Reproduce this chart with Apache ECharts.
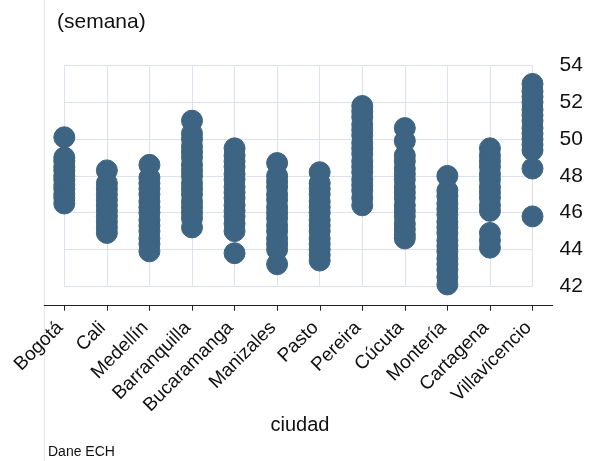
<!DOCTYPE html>
<html>
<head>
<meta charset="utf-8">
<script src="https://cdn.jsdelivr.net/npm/echarts@6/dist/echarts.min.js"></script>
<style>
  html, body { margin: 0; padding: 0; background: #fff; }
  #chart { width: 609px; height: 461px; }
</style>
</head>
<body>
<div id="chart"></div>
<script>
// ciudades (eje x)
const ciudades = ['Bogotá', 'Cali', 'Medellín', 'Barranquilla', 'Bucaramanga', 'Manizales',
  'Pasto', 'Pereira', 'Cúcuta', 'Montería', 'Cartagena', 'Villavicencio'];

// horas por semana, una lista por ciudad
const bogota = [50.1, 49.0, 48.8, 48.5, 48.3, 48.0, 47.8, 47.5, 47.3, 47.0, 46.8, 46.5];
const cali = [48.3, 47.6, 47.3, 47.0, 46.7, 46.4, 46.1, 45.8, 45.5, 45.2, 44.9];
const medellin = [48.6, 47.9, 47.6, 47.3, 47.0, 46.6, 46.3, 46.0, 45.6, 45.3, 45.0, 44.6, 44.3, 43.9];
const barranquilla = [51.0, 50.3, 50.0, 49.6, 49.3, 49.0, 48.6, 48.3, 48.0, 47.6, 47.3, 47.0, 46.6, 46.3, 46.0, 45.7, 45.2];
const bucaramanga = [49.5, 49.1, 48.8, 48.5, 48.1, 47.8, 47.4, 47.1, 46.8, 46.4, 46.1, 45.8, 45.4, 45.0, 43.8];
const manizales = [48.7, 48.0, 47.7, 47.4, 47.0, 46.7, 46.3, 46.0, 45.7, 45.3, 45.0, 44.6, 44.3, 44.0, 43.2];
const pasto = [48.2, 47.6, 47.3, 47.0, 46.6, 46.3, 46.0, 45.6, 45.3, 45.0, 44.6, 44.3, 44.0, 43.7, 43.4];
const pereira = [51.8, 51.5, 51.2, 50.8, 50.5, 50.2, 49.8, 49.5, 49.2, 48.8, 48.5, 48.2, 47.8, 47.5, 47.2, 46.8, 46.4];
const cucuta = [50.6, 49.9, 49.1, 48.8, 48.4, 48.1, 47.8, 47.4, 47.1, 46.8, 46.4, 46.1, 45.8, 45.4, 45.1, 44.8, 44.6];
const monteria = [48.0, 47.2, 46.9, 46.5, 46.2, 45.9, 45.5, 45.2, 44.9, 44.5, 44.2, 43.9, 43.5, 43.2, 42.9, 42.5, 42.1];
const cartagena = [49.5, 49.1, 48.8, 48.5, 48.1, 47.8, 47.4, 47.1, 46.8, 46.4, 46.1, 44.9, 44.5, 44.1];
const villavicencio = [53.0, 52.6, 52.3, 52.0, 51.6, 51.3, 51.0, 50.6, 50.3, 50.0, 49.7, 49.4, 48.4, 45.8];

// ticks del eje y
const yTicks = [42, 44, 46, 48, 50, 52, 54];
const xTicks = [1, 2, 3, 4, 5, 6, 7, 8, 9, 10, 11, 12];

const porCiudad = [bogota, cali, medellin, barranquilla, bucaramanga, manizales,
  pasto, pereira, cucuta, monteria, cartagena, villavicencio];

// pares [posicion ciudad, horas]
let puntos = [];
porCiudad.forEach((lista, i) => {
  lista.forEach(v => puntos.push([i + 1, v]));
});

const fuente = 'Liberation Sans, Arial, sans-serif';
const gridColor = '#dde1ec';
const colorPunto = '#3d6482';

let mychart = echarts.init(document.getElementById('chart'), null, { renderer: 'canvas' });
let option = {
  animation: false,
  backgroundColor: '#fff',
  grid: [
    // solo para la linea del eje x con sus etiquetas
    { left: 44.3, right: 56.3, top: 65.5, bottom: 155.3 },
    // region de los puntos
    { left: 64.3, right: 76.5, top: 65.5, bottom: 174.7 }
  ],
  xAxis: [
    {
      gridIndex: 0,
      type: 'value',
      min: 0.53,
      max: 12.47,
      splitLine: { show: false },
      axisLine: { show: true, lineStyle: { color: '#222', width: 1 } },
      axisTick: { show: true, customValues: xTicks, length: 5, lineStyle: { color: '#222' } },
      axisLabel: {
        customValues: xTicks,
        rotate: 45,
        margin: 15,
        padding: [0, 6, 0, 0],
        fontSize: 19,
        fontFamily: fuente,
        color: '#111',
        formatter: v => ciudades[Math.round(v) - 1] || ''
      }
    },
    {
      gridIndex: 1,
      type: 'value',
      min: 1,
      max: 12,
      interval: 1,
      axisLine: { show: false },
      axisTick: { show: false },
      axisLabel: { show: false },
      splitLine: { show: true, lineStyle: { color: gridColor, width: 1 } }
    }
  ],
  yAxis: [
    {
      gridIndex: 0,
      type: 'value',
      show: false
    },
    {
      gridIndex: 1,
      type: 'value',
      position: 'right',
      min: yTicks[0],
      max: yTicks[yTicks.length - 1],
      interval: 2,
      axisLine: { show: false },
      axisTick: { show: false },
      axisLabel: { margin: 27, fontSize: 21, fontFamily: fuente, color: '#111' },
      splitLine: { show: true, lineStyle: { color: gridColor, width: 1 } }
    }
  ],
  series: [
    {
      type: 'scatter',
      xAxisIndex: 1,
      yAxisIndex: 1,
      clip: false,
      symbol: 'circle',
      symbolSize: 21,
      itemStyle: { color: colorPunto, borderColor: colorPunto, borderWidth: 1, opacity: 1 },
      data: puntos
    }
  ],
  graphic: [
    {
      type: 'line',
      shape: { x1: 44.5, y1: 0, x2: 44.5, y2: 461 },
      style: { stroke: '#e1e5ef', lineWidth: 1 },
      z: -1
    },
    {
      type: 'text',
      left: 57,
      top: 12,
      style: { text: '(semana)', fontSize: 21, fontFamily: fuente, fill: '#111' }
    },
    {
      type: 'text',
      x: 300,
      y: 425,
      style: { text: 'ciudad', fontSize: 20, fontFamily: fuente, fill: '#111', align: 'center', verticalAlign: 'middle' }
    },
    {
      type: 'text',
      x: 48,
      y: 452,
      style: { text: 'Dane ECH', fontSize: 14, fontFamily: fuente, fill: '#111', verticalAlign: 'middle' }
    }
  ]
};
mychart.setOption(option);
window.addEventListener('resize', () => {
  mychart.resize();
});
</script>
</body>
</html>
